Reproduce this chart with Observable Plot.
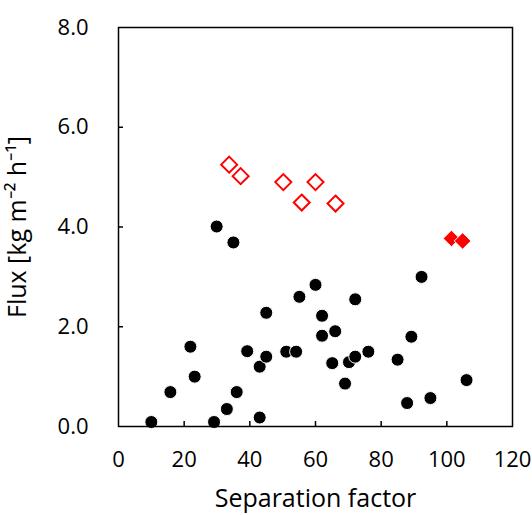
<!DOCTYPE html>
<html>
<head>
<meta charset="utf-8">
<script src="https://cdn.jsdelivr.net/npm/d3@7"></script>
<script src="https://cdn.jsdelivr.net/npm/@observablehq/plot@0.6"></script>
<style>
  html, body { margin: 0; padding: 0; background: #fff; }
</style>
</head>
<body>
<div id="chart"></div>
<script>
// Black filled circles: [separation factor, flux]
const blackSep  = [10, 15.8, 21.9, 23.2, 29.1, 33.0, 36.0, 39.2, 43.0, 43.0, 45.0, 45.0, 51.1, 54.1, 55.1, 60.0, 62.0, 62.0, 66.0, 65.1, 70.2, 72.1, 72.1, 69.0, 76.1, 85.0, 89.2, 87.9, 95.0, 92.3, 106.0, 29.9, 35.0];
const blackFlux = [0.09, 0.69, 1.60, 1.00, 0.09, 0.35, 0.69, 1.51, 0.18, 1.20, 1.40, 2.28, 1.50, 1.50, 2.60, 2.84, 2.22, 1.82, 1.91, 1.27, 1.29, 1.40, 2.55, 0.86, 1.50, 1.34, 1.80, 0.47, 0.57, 3.00, 0.93, 4.01, 3.69];
// Red open diamonds
const openSep  = [33.7, 37.2, 50.2, 60.0, 55.8, 66.1];
const openFlux = [5.25, 5.02, 4.90, 4.90, 4.49, 4.47];
// Red filled diamonds
const fillSep  = [101.4, 104.8];
const fillFlux = [3.77, 3.72];

const xTicks = [0, 20, 40, 60, 80, 100, 120];
const yTicks = [0, 2, 4, 6, 8];
const xLabel = "Separation factor";
const yLabel = "Flux [kg m\u207B\u00B2 h\u207B\u00B9]";

const black = blackSep.map((s, i) => ({sep: s, flux: blackFlux[i]}));
const open  = openSep.map((s, i) => ({sep: s, flux: openFlux[i]}));
const filled = fillSep.map((s, i) => ({sep: s, flux: fillFlux[i]}));

const chart = Plot.plot({
  width: 532,
  height: 515,
  marginLeft: 118,
  marginRight: 20,
  marginTop: 27,
  marginBottom: 89,
  style: {fontFamily: "'Open Sans', sans-serif", fontSize: "22px", color: "#000", background: "#fff"},
  x: {domain: [0, 120]},
  y: {domain: [0, 8]},
  marks: [
    Plot.tickX(xTicks.filter(d => d > 0 && d < 120), {x: d => d, insetTop: 394, stroke: "black", strokeWidth: 1.5}),
    Plot.tickY(yTicks.filter(d => d > 0 && d < 8), {y: d => d, insetRight: 389, stroke: "black", strokeWidth: 1.5}),
    Plot.axisX({ticks: xTicks, tickSize: 0, tickPadding: 25, tickFormat: d => String(d), label: null, fontSize: 22}),
    Plot.axisY({ticks: yTicks, tickSize: 0, tickPadding: 30, tickFormat: d3.format(".1f"), label: null, fontSize: 22}),
    Plot.dot(black, {x: "sep", y: "flux", r: 6.5, fill: "black", stroke: "white", strokeWidth: 1}),
    Plot.dot(open, {x: "sep", y: "flux", symbol: "diamond2", r: 7.2, fill: "white", stroke: "#ff0000", strokeWidth: 2}),
    Plot.dot(filled, {x: "sep", y: "flux", symbol: "diamond2", r: 7.5, fill: "#ff0000", stroke: "white", strokeWidth: 1}),
    Plot.frame({stroke: "black", strokeWidth: 1.5}),
    Plot.text([xLabel], {frameAnchor: "bottom", textAnchor: "middle", dy: 80, lineAnchor: "bottom", fontSize: 25, fill: "black"}),
    Plot.text([yLabel], {frameAnchor: "left", textAnchor: "middle", dx: -110, rotate: -90, lineAnchor: "top", fontSize: 25, fill: "black"})
  ]
});
document.getElementById("chart").appendChild(chart);
</script>
</body>
</html>
